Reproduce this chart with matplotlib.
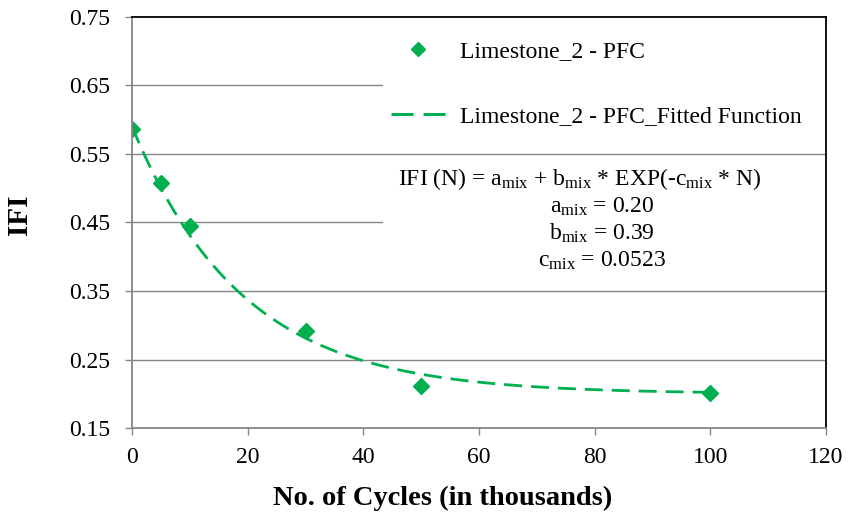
import numpy as np
import matplotlib.pyplot as plt
from matplotlib.patches import Rectangle
from matplotlib.lines import Line2D

plt.rcParams['font.family'] = ['Liberation Serif', 'DejaVu Serif']
plt.rcParams['mathtext.fontset'] = 'custom'
plt.rcParams['mathtext.rm'] = 'Liberation Serif'
plt.rcParams['mathtext.it'] = 'Liberation Serif:italic'

# measured IFI values
cycles = [0, 5, 10, 30, 50, 100]
ifi = [0.587, 0.508, 0.445, 0.291, 0.212, 0.201]

# fitted parameters shown on the chart
a_mix = 0.20
b_mix = 0.39
c_mix = 0.0523

xticks = [0, 20, 40, 60, 80, 100, 120]
yticks = [0.15, 0.25, 0.35, 0.45, 0.55, 0.65, 0.75]

green = '#00B050'
gray = '#868686'

fig = plt.figure(figsize=(8.48, 5.14), dpi=100)
ax = fig.add_axes([0.1557, 0.1673, 0.8183, 0.7997])

ax.set_xlim(0, 120)
ax.set_ylim(0.15, 0.75)
ax.set_xticks(xticks)
ax.set_yticks(yticks)
ax.set_yticklabels(['%.2f' % v for v in yticks])
ax.tick_params(axis='both', labelsize=17, color=gray, length=5, width=1,
               direction='out')
ax.tick_params(axis='x', pad=9)
ax.tick_params(axis='y', pad=11)

for g in yticks[1:-1]:
    ax.axhline(g, color=gray, lw=1, zorder=1)

ax.spines['left'].set_color(gray)
ax.spines['bottom'].set_color(gray)
ax.spines['top'].set_color('black')
ax.spines['right'].set_color('black')
for s in ax.spines.values():
    s.set_linewidth(1.3)
    s.set_zorder(5)

# white boxes behind legend and equation
ax.add_patch(Rectangle((0.362, 0.67), 0.64, 0.335, transform=ax.transAxes,
                       facecolor='white', edgecolor='none', zorder=2))
ax.add_patch(Rectangle((0.362, 0.337), 0.64, 0.325, transform=ax.transAxes,
                       facecolor='white', edgecolor='none', zorder=2))

n = np.linspace(0, 100, 200)
fit = a_mix + b_mix * np.exp(-c_mix * n)
ax.plot(n, fit, color=green, lw=2, dashes=(6.5, 3.2), zorder=3)
ax.plot(cycles, ifi, linestyle='none', marker='D', markersize=8.5,
        color=green, zorder=4)

handles = [Line2D([], [], linestyle='none', marker='D', markersize=7.5, color=green),
           Line2D([], [], color=green, lw=2.2, dashes=(7.2, 3.3))]
ax.legend(handles, ['Limestone_2 - PFC', 'Limestone_2 - PFC_Fitted Function'],
          loc='upper left', bbox_to_anchor=(0.343, 0.995), frameon=False,
          fontsize=17, labelspacing=1.86, handlelength=2.26,
          handletextpad=0.63)

tx = 0.677
ax.text(0.383, 0.591, r'IFI (N) = a$_{\rm mix}$ + b$_{\rm mix}$ * EXP(-c$_{\rm mix}$ * N)',
        transform=ax.transAxes, fontsize=17, ha='left', va='baseline', zorder=6)
ax.text(tx, 0.523, r'a$_{\rm mix}$ = 0.20', transform=ax.transAxes,
        fontsize=17, ha='center', va='baseline', zorder=6)
ax.text(tx, 0.457, r'b$_{\rm mix}$ = 0.39', transform=ax.transAxes,
        fontsize=17, ha='center', va='baseline', zorder=6)
ax.text(tx, 0.392, r'c$_{\rm mix}$ = 0.0523', transform=ax.transAxes,
        fontsize=17, ha='center', va='baseline', zorder=6)

ax.set_xlabel('No. of Cycles (in thousands)', fontsize=20.5, fontweight='bold')
ax.xaxis.set_label_coords(0.447, -0.14)
ax.set_ylabel('IFI', fontsize=21, fontweight='bold')
ax.yaxis.set_label_coords(-0.143, 0.52)

fig.savefig('out.png', dpi=100)
